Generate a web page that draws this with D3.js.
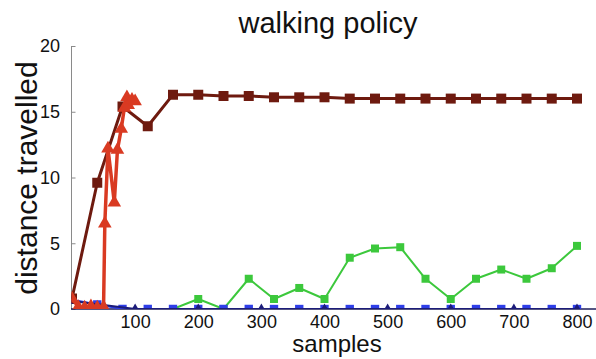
<!DOCTYPE html>
<html>
<head>
<meta charset="utf-8">
<script src="https://cdn.jsdelivr.net/npm/d3@7"></script>
<style>
  body { margin: 0; background: #fff; }
  svg { display: block; font-family: "Liberation Sans", Arial, sans-serif; }
</style>
</head>
<body>
<svg width="596" height="359"></svg>
<script>
// values
const darkRedX = [0, 40, 80, 120, 160, 200, 240, 280, 320, 360, 400, 440, 480, 520, 560, 600, 640, 680, 720, 760, 800];
const darkRedY = [0.8, 9.6, 15.4, 13.9, 16.3, 16.3, 16.2, 16.2, 16.1, 16.1, 16.1, 16.0, 16.0, 16.0, 16.0, 16.0, 16.0, 16.0, 16.0, 16.0, 16.0];
const redX = [0, 10, 20, 30, 40, 50, 52, 57, 67, 72, 78, 83, 87, 89, 95, 100];
const redY = [0.8, 0.15, 0.1, 0.2, 0.1, 0.15, 6.5, 12.2, 8.1, 12.1, 13.7, 15.3, 16.1, 15.5, 15.9, 15.8];
const greenX = [160, 200, 240, 280, 320, 360, 400, 440, 480, 520, 560, 600, 640, 680, 720, 760, 800];
const greenY = [0, 0.76, 0, 2.3, 0.76, 1.6, 0.76, 3.9, 4.6, 4.7, 2.3, 0.76, 2.3, 3.0, 2.3, 3.1, 4.8];
const blueX = [0, 40, 80, 120, 160, 200, 240, 280, 320, 360, 400, 440, 480, 520, 560, 600, 640, 680, 720, 760, 800];
const blueY = [0.7, 0.35, 0, 0, 0, 0, 0, 0, 0, 0, 0, 0, 0, 0, 0, 0, 0, 0, 0, 0, 0];
const navyX = [0, 100, 200, 300, 400, 500, 600, 700, 800];
const navyY = [0.6, 0, 0, 0, 0, 0, 0, 0, 0];
const xTicks = [100, 200, 300, 400, 500, 600, 700, 800];
const yTicks = [0, 5, 10, 15, 20];

var svg = d3.select("svg");
var x = d3.scaleLinear().domain([0, 800]).range([72, 577]);
var y = d3.scaleLinear().domain([0, 20]).range([309, 46]);

svg.append("defs").append("clipPath").attr("id", "plot")
  .append("rect").attr("x", 71.5).attr("y", 0).attr("width", 530).attr("height", 309);

// axes
var yAxis = svg.append("g")
  .attr("transform", "translate(71.5,0)")
  .call(d3.axisRight(y).tickValues(yTicks).tickSize(4).tickFormat(""));
yAxis.select(".domain").attr("stroke", "#8a8a8a").attr("d", "M0," + y(20) + "V" + y(0));
yAxis.selectAll(".tick line").attr("stroke", "#8a8a8a");

svg.append("g").selectAll("text").data(yTicks).enter().append("text")
  .attr("x", 60)
  .attr("y", d => y(d))
  .attr("dy", "0.36em")
  .attr("text-anchor", "end")
  .attr("font-size", 18)
  .attr("fill", "#111")
  .text(d => d);

var xAxis = svg.append("g")
  .attr("transform", "translate(0,309)")
  .call(d3.axisBottom(x).tickValues(xTicks).tickSize(0).tickPadding(6));
xAxis.select(".domain").attr("stroke", "#1c1c5a").attr("stroke-width", 1.5).attr("d", "M71,0H596");
xAxis.selectAll(".tick text").attr("font-size", 18).attr("fill", "#111")
  .attr("font-family", "'Liberation Sans', Arial, sans-serif");

var plot = svg.append("g").attr("clip-path", "url(#plot)");

function series(xs, ys, color, width, shape, size) {
  var pts = xs.map((d, i) => [d, ys[i]]);
  plot.append("path")
    .datum(pts)
    .attr("fill", "none")
    .attr("stroke", color)
    .attr("stroke-width", width)
    .attr("stroke-linejoin", "round")
    .attr("d", d3.line().x(d => x(d[0])).y(d => y(d[1])));
  var sym = d3.symbol().type(shape).size(size);
  plot.append("g").selectAll("path").data(pts).enter().append("path")
    .attr("transform", d => "translate(" + x(d[0]) + "," + y(d[1]) + ")")
    .attr("d", sym)
    .attr("fill", color);
}

series(greenX, greenY, "#3cc83c", 2, d3.symbolSquare, 64);
series(blueX, blueY, "#2e3ee8", 2, d3.symbolSquare, 70);
series(navyX, navyY, "#1c1c7a", 2, d3.symbolTriangle, 40);
series(darkRedX, darkRedY, "#6e1a0f", 3, d3.symbolSquare, 100);
series(redX, redY, "#d93a22", 3.5, d3.symbolTriangle, 80);

svg.append("text")
  .attr("x", 328)
  .attr("y", 33)
  .attr("text-anchor", "middle")
  .attr("font-size", 29)
  .attr("fill", "#111")
  .text("walking policy");

svg.append("text")
  .attr("transform", "translate(37,178) rotate(-90)")
  .attr("text-anchor", "middle")
  .attr("font-size", 30)
  .attr("fill", "#111")
  .text("distance travelled");

svg.append("text")
  .attr("x", 337)
  .attr("y", 352)
  .attr("text-anchor", "middle")
  .attr("font-size", 24)
  .attr("fill", "#111")
  .text("samples");
</script>
</body>
</html>
